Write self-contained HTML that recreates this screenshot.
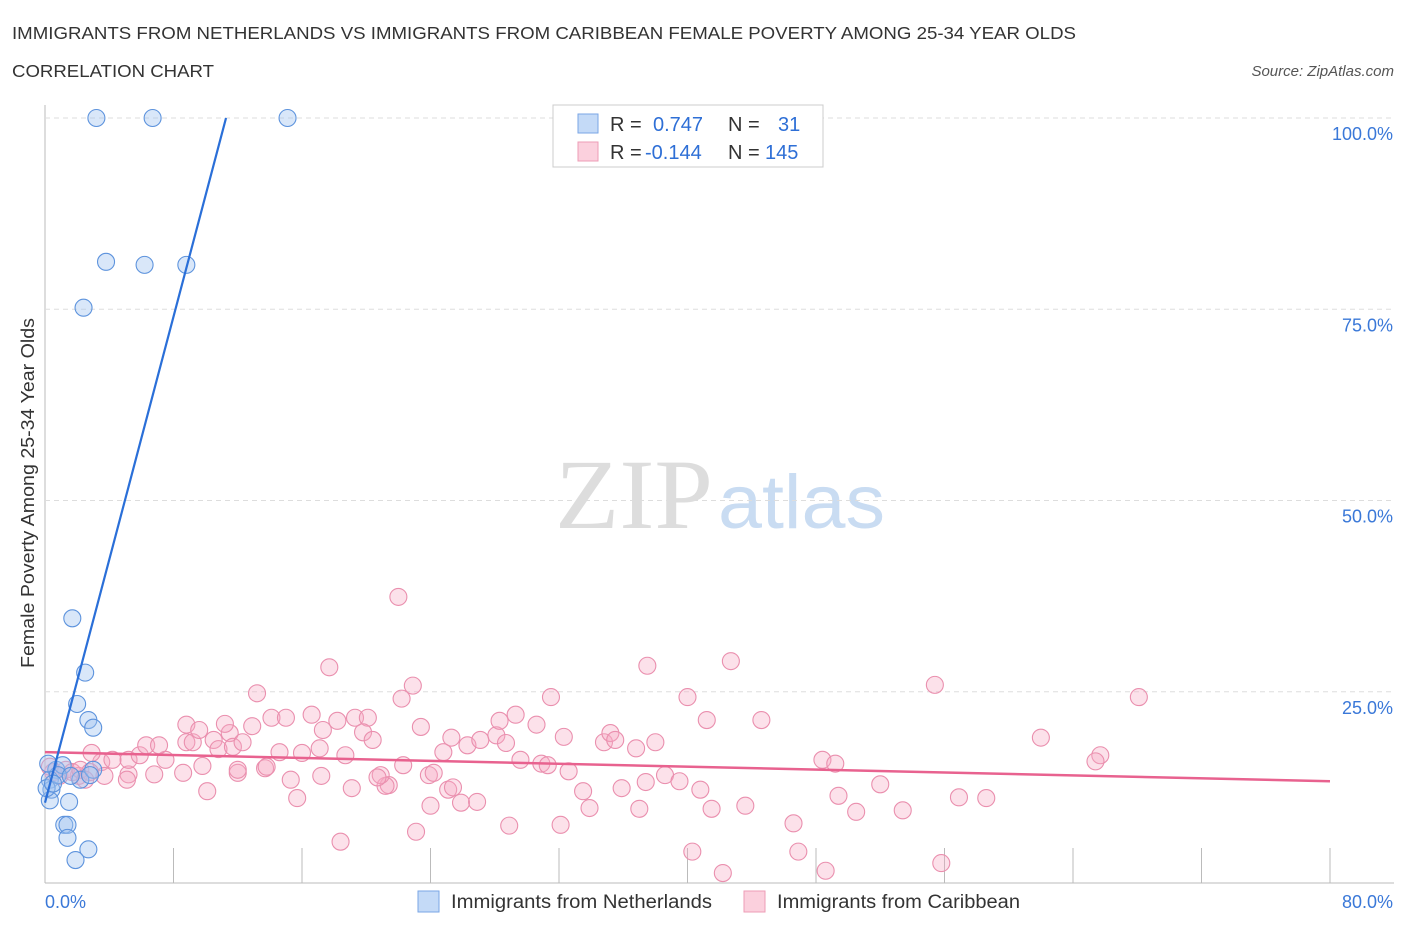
<!DOCTYPE html>
<html><head><meta charset="utf-8"><style>
body{margin:0;background:#fff;font-family:"Liberation Sans",sans-serif;}
</style></head><body>
<svg id="chart" width="1406" height="930" xmlns="http://www.w3.org/2000/svg" style="display:block">
<text x="12" y="39" font-size="17.5" fill="#333" textLength="1064" lengthAdjust="spacingAndGlyphs">IMMIGRANTS FROM NETHERLANDS VS IMMIGRANTS FROM CARIBBEAN FEMALE POVERTY AMONG 25-34 YEAR OLDS</text>
<text x="12" y="77" font-size="17.5" fill="#333" textLength="202" lengthAdjust="spacingAndGlyphs">CORRELATION CHART</text>
<text x="1394" y="76" font-size="15" fill="#555" font-style="italic" text-anchor="end">Source: ZipAtlas.com</text>
<text x="555" y="528" font-size="100" fill="#ddd" font-family="Liberation Serif,serif" textLength="158" lengthAdjust="spacingAndGlyphs">ZIP</text>
<text x="718" y="528" font-size="76" fill="#c9dcf2" textLength="167" lengthAdjust="spacingAndGlyphs">atlas</text>
<text transform="translate(34,493) rotate(-90)" font-size="18" fill="#333" text-anchor="middle" textLength="350" lengthAdjust="spacingAndGlyphs">Female Poverty Among 25-34 Year Olds</text>
<g id="grid"></g><g id="pts"></g><g id="lines"></g>
<g>
<rect x="553" y="105" width="270" height="62" fill="#fff" stroke="#ccc"/>
<rect x="578" y="114" width="20" height="19" fill="#c4daf7" stroke="#7aa6e6"/>
<rect x="578" y="142" width="20" height="19" fill="#fbd0dd" stroke="#ee9cb6"/>
<text x="610" y="131" font-size="20" fill="#333">R =</text><text x="653" y="131" font-size="20" fill="#2e6fd6">0.747</text>
<text x="728" y="131" font-size="20" fill="#333">N =</text><text x="778" y="131" font-size="20" fill="#2e6fd6">31</text>
<text x="610" y="159" font-size="20" fill="#333">R =</text><text x="645" y="159" font-size="20" fill="#2e6fd6">-0.144</text>
<text x="728" y="159" font-size="20" fill="#333">N =</text><text x="765" y="159" font-size="20" fill="#2e6fd6">145</text>
</g>
<g>
<rect x="418" y="891" width="21" height="21" fill="#c4daf7" stroke="#7aa6e6"/>
<text x="451" y="908" font-size="19" fill="#333" textLength="261" lengthAdjust="spacingAndGlyphs">Immigrants from Netherlands</text>
<rect x="744" y="891" width="21" height="21" fill="#fbd0dd" stroke="#ee9cb6"/>
<text x="777" y="908" font-size="19" fill="#333" textLength="243" lengthAdjust="spacingAndGlyphs">Immigrants from Caribbean</text>
</g>
</svg>
<script>
const xTicks=[0,8,16,24,32,40,48,56,64,72,80];
const yTicks=[25,50,75,100];
const yTickLabels=["25.0%","50.0%","75.0%","100.0%"];
const xEndLabels=["0.0%","80.0%"];
const blueX=[3.2,6.7,15.1,3.8,6.2,8.8,2.4,1.7,2.5,2.0,2.7,3.0,1.5,1.2,1.4,1.4,2.7,1.9,0.7,1.1,0.3,0.4,0.3,0.8,2.2,3.0,2.8,0.1,0.5,1.6,0.2];
const blueY=[100,100,100,81.2,80.8,80.8,75.2,34.6,27.5,23.4,21.3,20.3,10.6,7.6,7.6,5.9,4.4,3.0,14.8,15.4,13.5,12.2,10.8,14.1,13.5,14.8,14.1,12.4,13.0,14.0,15.6];
const pinkX=[22.0,17.7,22.9,22.2,13.2,37.5,42.7,40.0,31.5,55.4,68.1,41.2,44.6,62.0,65.7,65.4,48.4,49.2,8.8,11.5,8.8,10.5,14.1,15.0,16.6,17.3,18.2,19.3,20.1,19.8,20.4,18.7,22.3,23.4,24.8,25.3,26.3,27.1,28.1,28.3,29.3,28.7,30.6,29.6,30.9,31.3,32.6,32.3,34.8,35.2,35.5,36.8,38.0,38.6,39.5,40.8,35.9,37.4,33.5,33.9,37.0,41.5,43.6,49.4,52.0,50.5,53.4,56.9,58.6,46.6,46.9,48.6,40.3,42.2,55.8,32.1,28.9,23.1,18.4,25.9,26.9,24.0,25.1,25.4,21.4,21.2,15.7,19.1,10.1,23.9,24.2,20.9,20.7,17.2,15.3,13.7,13.8,12.0,9.8,8.6,6.8,7.5,5.2,5.2,3.5,2.9,4.2,5.9,6.3,7.1,9.2,9.6,10.8,11.7,12.3,12.9,14.6,16.0,17.1,11.2,12.0,5.1,3.7,2.1,0.5,0.9,1.3,1.7,2.2,2.8,0.3,2.5];
const pinkY=[37.4,28.2,25.8,24.1,24.8,28.4,29.0,24.3,24.3,25.9,24.3,21.3,21.3,19.0,16.7,15.9,16.1,15.6,20.7,19.6,18.4,18.7,21.6,21.6,22.0,20.0,21.2,21.6,21.6,19.7,18.7,16.7,15.4,20.4,17.1,19.0,18.0,18.7,19.3,21.2,22.0,18.3,20.7,16.1,15.6,15.4,14.6,19.1,18.4,19.6,18.7,17.6,18.4,14.1,13.3,12.2,12.4,13.2,12.0,9.8,9.7,9.7,10.1,11.4,12.9,9.3,9.5,11.2,11.1,7.8,4.1,1.6,4.1,1.3,2.6,7.6,7.5,6.7,5.4,10.5,10.6,10.1,12.2,12.5,12.8,12.7,11.1,12.4,12.0,14.1,14.4,14.1,13.8,14.0,13.5,15.0,15.2,14.4,15.3,14.4,14.2,16.1,14.2,16.1,15.8,17.0,16.1,16.7,18.0,18.0,18.4,20.0,17.5,17.8,18.4,20.5,17.1,17.0,17.6,20.8,14.8,13.5,14.0,14.0,14.5,14.0,14.8,14.5,14.8,14.5,15.2,13.5];
const blueTrend=[[0,10.5],[11.27,100]];
const pinkTrend=[[0,17.1],[80,13.3]];
const NS="http://www.w3.org/2000/svg";
const X0=45,X1=1330,Y0=883,Y100=118;
function sx(v){return X0+(X1-X0)*v/80;}
function sy(v){return Y0-(Y0-Y100)*v/100;}
function mk(tag,attrs,parent,text){const e=document.createElementNS(NS,tag);for(const k in attrs)e.setAttribute(k,attrs[k]);if(text!==undefined)e.textContent=text;parent.appendChild(e);return e;}
const grid=document.getElementById('grid');
let e;
e=mk('line',{x1:X0,y1:105,x2:X0,y2:Y0,stroke:'#bbb'},grid);


e=mk('line',{x1:X0,y1:Y0,x2:1394,y2:Y0,stroke:'#bbb'},grid);


yTicks.forEach((t,i)=>{
 e=mk('line',{x1:X0,y1:sy(t),x2:1394,y2:sy(t),stroke:'#ddd','stroke-dasharray':'5,4'},grid);
 
 
 e=mk('text',{x:1393,y:sy(t)+22,'font-size':18,fill:'#3a78d8','text-anchor':'end'},grid,yTickLabels[i]);
 
 
});
xTicks.forEach(t=>{
 e=mk('line',{x1:sx(t),y1:848,x2:sx(t),y2:Y0,stroke:'#bbb'},grid);
 
 
});
e=mk('text',{x:45,y:908,'font-size':18,fill:'#3a78d8'},grid,xEndLabels[0]);


e=mk('text',{x:1393,y:908,'font-size':18,fill:'#3a78d8','text-anchor':'end'},grid,xEndLabels[1]);


const pts=document.getElementById('pts');
pinkX.forEach((v,i)=>{
 e=mk('circle',{cx:sx(v),cy:sy(pinkY[i]),r:8.5,fill:'rgba(246,170,195,0.35)',stroke:'#ea8fae','stroke-width':1.1},pts);
 
 
});
blueX.forEach((v,i)=>{
 e=mk('circle',{cx:sx(v),cy:sy(blueY[i]),r:8.5,fill:'rgba(160,196,240,0.4)',stroke:'#5d93dd','stroke-width':1.1},pts);
 
 
});
const lines=document.getElementById('lines');
e=mk('line',{x1:sx(pinkTrend[0][0]),y1:sy(pinkTrend[0][1]),x2:sx(pinkTrend[1][0]),y2:sy(pinkTrend[1][1]),stroke:'#e8628f','stroke-width':2.5},lines);


e=mk('line',{x1:sx(blueTrend[0][0]),y1:sy(blueTrend[0][1]),x2:sx(blueTrend[1][0]),y2:sy(blueTrend[1][1]),stroke:'#2a6fd8','stroke-width':2.2},lines);


</script>
</body></html>
